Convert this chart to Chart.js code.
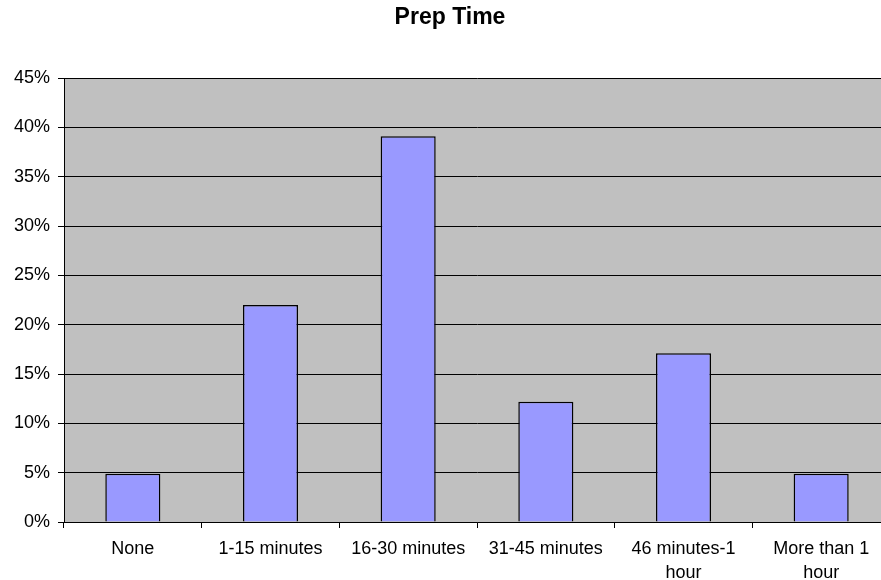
<!DOCTYPE html>
<html>
<head>
<meta charset="utf-8">
<title>Prep Time</title>
<script src="https://cdn.jsdelivr.net/npm/chart.js@4"></script>
<style>
  html, body { margin: 0; padding: 0; background: #fff; overflow: hidden; }
  #graph { display: block; }
</style>
</head>
<body>
<canvas id="graph" width="900" height="580"></canvas>
<script>
var categories = ['None', '1-15 minutes', '16-30 minutes', '31-45 minutes', ['46 minutes-1', 'hour'], ['More than 1', 'hour']];
var share = [4.9, 22.0, 39.1, 12.2, 17.1, 4.9];
var yTicks = [0, 5, 10, 15, 20, 25, 30, 35, 40, 45];

// grey plot background behind the bars
var plotBackground = {
  id: 'plotBackground',
  beforeDraw: function(c) {
    var a = c.chartArea;
    var ctx = c.ctx;
    ctx.save();
    ctx.fillStyle = '#C0C0C0';
    ctx.fillRect(a.left, a.top, a.right - a.left, a.bottom - a.top);
    ctx.restore();
  }
};

var context = document.querySelector('#graph').getContext('2d');
var chart = new Chart(context, chartSetup(categories, share));

function chartSetup(labels, values) {
  var font = "'Liberation Sans', Arial, sans-serif";
  var data = {
    type: 'bar',
    data: {
      labels: labels,
      datasets: [{
        data: values,
        backgroundColor: '#9999FF',
        borderColor: '#000000',
        borderWidth: 1.5,
        barPercentage: 0.4,
        categoryPercentage: 1.0
      }]
    },
    options: {
      responsive: false,
      animation: false,
      layout: {
        padding: 0
      },
      plugins: {
        legend: { display: false },
        tooltip: { enabled: false },
        title: {
          display: true,
          text: 'Prep Time',
          color: '#000',
          font: { family: font, size: 23, weight: 'bold' },
          padding: { top: 4, bottom: 46.4 }
        }
      },
      scales: {
        x: {
          offset: true,
          grid: {
            offset: true,
            drawOnChartArea: false,
            color: '#000',
            tickLength: 6
          },
          border: { color: '#000', width: 1 },
          ticks: {
            color: '#000',
            font: { family: font, size: 18, lineHeight: 1.28 },
            padding: 10,
            maxRotation: 0,
            autoSkip: false
          },
          afterFit: function(scale) { scale.height = 58; }
        },
        y: {
          min: 0,
          max: 45,
          afterBuildTicks: function(scale) {
            scale.ticks = yTicks.map(function(v) { return { value: v }; });
          },
          grid: {
            color: '#000',
            tickLength: 6
          },
          border: { color: '#000', width: 1 },
          ticks: {
            color: '#000',
            font: { family: font, size: 18 },
            padding: 8,
            callback: function(v) { return v + '%'; }
          },
          afterFit: function(scale) { scale.width = 64; }
        },
        // empty strip on the right, keeps the title centred on the whole chart
        yRight: {
          position: 'right',
          min: 0,
          max: 45,
          grid: { display: false },
          border: { display: false },
          ticks: { display: false },
          afterFit: function(scale) { scale.width = 10; }
        }
      }
    },
    plugins: [plotBackground]
  };
  return data;
}
</script>
</body>
</html>
